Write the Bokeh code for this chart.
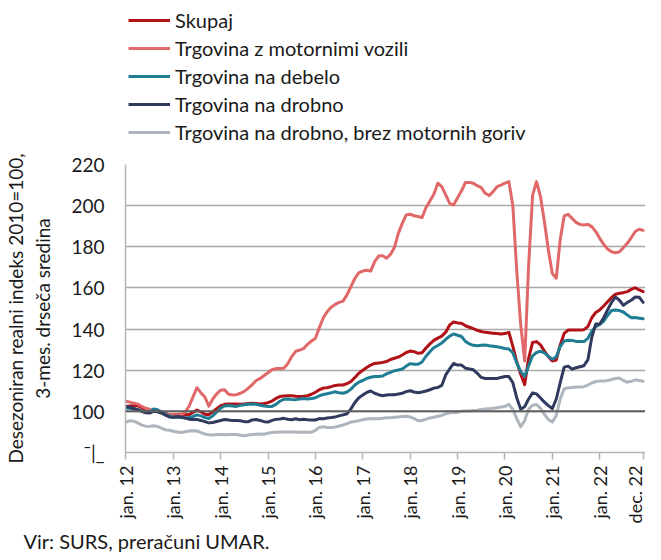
from math import pi
from bokeh.plotting import figure
from bokeh.layouts import column
from bokeh.models import FixedTicker, Legend, LegendItem, Span, Range1d, ColumnDataSource, Title
from bokeh.embed import file_html
from bokeh.resources import INLINE

# ---------------- data (monthly, jan 2012 .. dec 2022) ----------------
month_index = list(range(132))

skupaj = [
    102.4, 102.6, 102.7, 102.8, 101.8, 101.0, 100.3, 100.2, 100.0, 99.6, 99.0, 98.4,
    98.4, 98.5, 98.6, 98.5, 98.4, 99.5, 100.6, 99.8, 98.6, 98.4, 99.8, 101.3,
    102.8, 103.4, 103.6, 103.6, 103.6, 103.4, 103.6, 103.8, 104.0, 103.8, 103.6, 103.8,
    104.2, 105.0, 106.3, 107.2, 107.5, 107.6, 107.6, 107.3, 107.2, 107.3, 107.6, 108.3,
    109.3, 110.5, 111.3, 111.5, 112.0, 112.6, 112.8, 112.8, 113.5, 114.5, 116.5, 118.5,
    120.0, 121.3, 122.5, 123.3, 123.5, 123.8, 124.2, 125.2, 125.8, 126.4, 127.4, 128.6,
    129.3, 129.0, 128.2, 128.5, 130.8, 132.8, 134.5, 135.6, 136.6, 138.5, 142.0, 143.4,
    143.0, 142.8, 141.6, 140.9, 140.2, 139.4, 138.8, 138.4, 138.2, 138.0, 137.8, 137.6,
    137.8, 138.4, 131.6, 124.1, 118.0, 113.0, 125.8, 133.5, 133.9, 132.3, 129.3, 126.6,
    124.5, 125.0, 132.3, 137.9, 139.5, 139.5, 139.5, 139.5, 139.7, 141.2, 145.5, 148.1,
    149.3, 151.2, 153.3, 155.4, 156.9, 157.4, 157.7, 158.2, 159.3, 160.1, 159.0, 158.2,
]

motorna_vozila = [
    104.9, 104.5, 104.0, 103.5, 102.5, 101.5, 101.0, 100.3, 100.0, 99.3, 98.8, 98.4,
    98.4, 98.4, 98.4, 99.5, 102.5, 107.0, 111.5, 109.0, 107.0, 102.5, 106.0, 108.5,
    110.3, 110.5, 108.3, 108.0, 108.1, 108.8, 109.7, 111.3, 113.0, 115.0, 116.0, 117.4,
    118.8, 120.2, 120.8, 120.8, 121.0, 123.2, 126.6, 129.2, 129.8, 130.5, 132.6, 134.2,
    135.5, 140.7, 145.5, 148.5, 150.6, 152.0, 153.0, 153.6, 156.6, 160.6, 164.7, 167.4,
    168.2, 168.6, 168.2, 172.8, 175.5, 175.7, 174.4, 176.3, 179.6, 186.5, 191.4, 195.5,
    195.8, 195.1, 194.7, 194.2, 199.0, 202.3, 205.5, 210.9, 209.2, 205.2, 201.1, 200.3,
    203.8, 207.2, 211.3, 211.3, 210.9, 209.7, 208.8, 206.0, 204.9, 206.8, 209.2, 210.0,
    210.9, 211.7, 200.0, 168.0, 142.0, 124.5, 171.0, 205.0, 211.7, 204.4, 192.2, 178.4,
    167.0, 164.7, 183.6, 195.0, 195.8, 193.8, 191.9, 190.9, 190.6, 190.9, 189.8, 187.4,
    184.1, 181.2, 178.9, 177.6, 177.1, 177.6, 179.6, 181.7, 184.4, 187.4, 188.5, 188.0,
]

na_debelo = [
    101.6, 101.5, 101.2, 100.8, 100.2, 99.8, 99.6, 101.2, 100.8, 99.8, 98.6, 97.6,
    97.1, 97.1, 97.0, 96.8, 97.0, 97.5, 98.3, 97.8, 97.0, 96.5, 97.8, 99.7,
    101.6, 102.6, 102.8, 102.6, 102.4, 102.9, 103.2, 103.5, 103.6, 103.4, 103.0, 102.6,
    102.4, 102.4, 103.4, 104.9, 105.9, 106.0, 105.8, 105.7, 106.0, 106.3, 106.0, 106.2,
    106.6, 107.6, 108.2, 108.6, 109.0, 109.5, 109.0, 108.8, 109.4, 110.8, 112.8, 114.2,
    115.0, 116.0, 116.6, 116.9, 116.9, 117.2, 118.2, 119.0, 119.7, 120.1, 120.6, 122.0,
    123.2, 122.9, 122.9, 124.0, 126.8, 129.0, 131.0, 132.0, 133.2, 135.0, 136.6, 137.6,
    137.0, 136.4, 134.0, 132.8, 132.1, 131.9, 132.1, 132.3, 131.9, 131.7, 131.4, 131.0,
    130.6, 130.3, 128.5, 123.5, 119.3, 117.0, 122.2, 127.0, 128.6, 129.2, 128.4, 126.8,
    125.3, 126.5, 131.5, 134.2, 134.6, 134.5, 134.0, 133.9, 133.9, 135.5, 139.0, 141.2,
    142.3, 143.8, 146.6, 149.0, 149.3, 149.0, 148.3, 146.8, 145.5, 145.6, 145.3, 145.0,
]

na_drobno = [
    102.4, 102.0, 101.4, 100.8, 100.0, 99.3, 99.2, 100.0, 99.8, 99.2, 98.2, 97.3,
    97.1, 97.5, 97.3, 96.8, 96.2, 96.0, 96.0, 95.6, 95.0, 94.4, 94.6, 95.1,
    95.6, 96.0, 95.8, 95.5, 95.5, 95.4, 95.0, 95.0, 95.8, 96.0, 95.6, 95.0,
    94.8, 95.6, 96.1, 96.3, 96.6, 96.2, 95.9, 96.4, 95.9, 96.2, 95.9, 95.8,
    95.8, 96.5, 96.4, 96.8, 97.0, 97.3, 97.8, 98.3, 98.8, 101.2, 104.3, 106.6,
    107.9, 109.2, 109.9, 108.8, 108.1, 107.6, 107.9, 108.1, 108.1, 108.4, 108.8, 109.6,
    110.0, 109.4, 109.0, 109.4, 109.9, 110.5, 111.3, 111.6, 112.6, 117.7, 120.6, 123.3,
    122.5, 122.5, 121.0, 120.6, 120.2, 118.5, 116.5, 116.0, 116.0, 116.0, 116.0, 116.5,
    116.9, 116.9, 114.0, 106.5, 101.0, 102.3, 106.0, 109.0, 108.5, 106.5, 104.5, 102.8,
    101.3, 106.0, 114.0, 121.5, 122.0, 120.5, 121.2, 121.7, 122.2, 125.0, 136.0, 142.5,
    142.3, 145.5, 149.3, 153.0, 155.5, 154.0, 151.5, 153.0, 154.0, 155.6, 155.5, 153.0,
]

brez_goriv = [
    94.8, 95.5, 95.2, 94.4, 93.3, 92.8, 92.7, 93.0, 92.7, 91.8, 91.0, 90.8,
    90.3, 90.0, 89.7, 90.1, 90.4, 90.6, 90.5, 89.7, 89.0, 88.6, 88.5, 88.7,
    88.8, 88.6, 88.7, 88.8, 88.7, 88.4, 88.1, 88.5, 88.7, 88.9, 89.0, 88.9,
    89.4, 89.7, 89.9, 90.0, 90.0, 90.0, 90.0, 90.0, 89.9, 90.0, 89.9, 89.9,
    90.8, 92.2, 92.5, 92.2, 92.1, 92.4, 92.9, 93.4, 94.0, 94.8, 95.1, 95.5,
    95.9, 96.3, 96.5, 96.4, 96.4, 96.6, 96.9, 96.9, 97.1, 97.3, 97.5, 97.6,
    97.3, 96.5, 95.4, 95.5, 96.2, 96.8, 97.1, 97.6, 98.0, 98.8, 99.3, 99.6,
    99.5, 100.0, 100.2, 100.2, 100.4, 100.6, 100.9, 101.1, 101.3, 101.5, 101.8, 102.1,
    102.4, 103.4, 101.0, 96.5, 92.5, 95.5, 101.0, 103.0, 103.3, 101.5, 98.5, 96.0,
    94.8, 98.0, 106.0, 111.0, 111.5, 111.6, 111.8, 111.9, 112.0, 112.8, 113.8, 114.5,
    114.7, 114.7, 115.0, 115.5, 116.0, 116.2, 115.0, 114.2, 114.6, 115.3, 115.0, 114.6,
]

series_names = [
    "Skupaj",
    "Trgovina z motornimi vozili",
    "Trgovina na debelo",
    "Trgovina na drobno",
    "Trgovina na drobno, brez motornih goriv",
]
series_values = [skupaj, motorna_vozila, na_debelo, na_drobno, brez_goriv]
series_colors = ["#B01218", "#E06868", "#1F7E93", "#2F3A5E", "#AEB5BD"]

x_tick_months = [0, 12, 24, 36, 48, 60, 72, 84, 96, 108, 120, 131]
x_tick_labels = ["jan. 12", "jan. 13", "jan. 14", "jan. 15", "jan. 16", "jan. 17",
                 "jan. 18", "jan. 19", "jan. 20", "jan. 21", "jan. 22", "dec. 22"]
y_ticks = [80, 100, 120, 140, 160, 180, 200, 220]
base_level = 100

y_axis_title = "Desezoniran realni indeks 2010=100,\n3-mes. drseča sredina"
source_note = "Vir: SURS, preračuni UMAR."

FONT = "Lato"
TEXT_COLOR = "#1a1a1a"
W = 645

# ---------------- legend strip (top) ----------------
leg_fig = figure(width=W, height=145, output_backend="svg", toolbar_location=None,
                 x_range=Range1d(0, 1), y_range=Range1d(0, 1),
                 x_axis_location=None, y_axis_location=None,
                 min_border=0, min_border_left=0, min_border_right=0,
                 min_border_top=0, min_border_bottom=0)
leg_fig.outline_line_color = None
leg_fig.grid.visible = False
nan = float("nan")
leg_renderers = [leg_fig.line(x=[nan], y=[nan], line_color=c, line_width=3) for c in series_colors]
legend = Legend(
    items=[LegendItem(label=n, renderers=[r]) for n, r in zip(series_names, leg_renderers)],
    location=(3, 1), orientation="vertical",
    border_line_color=None, background_fill_alpha=0,
    padding=0, margin=0, spacing=4,
    glyph_width=42, glyph_height=22, label_height=22, label_standoff=5,
    label_text_font=FONT, label_text_font_size="20px", label_text_color=TEXT_COLOR,
)
leg_fig.add_layout(legend)

# ---------------- main chart ----------------
p = figure(width=W, height=407, output_backend="svg", toolbar_location=None,
           x_range=Range1d(-0.1, 131.6), y_range=Range1d(80, 220),
           min_border_left=119, min_border_right=0, min_border_top=19,
           min_border_bottom=99)
p.outline_line_color = None

src = ColumnDataSource(dict(m=month_index, **{f"s{i}": v for i, v in enumerate(series_values)}))
for i, col in enumerate(series_colors):
    p.line("m", f"s{i}", source=src, line_color=col, line_width=3,
           line_join="round", line_cap="round")

p.add_layout(Span(location=base_level, dimension="width", line_color="#5f5f5f", line_width=2))

p.xaxis.ticker = FixedTicker(ticks=x_tick_months)
p.xaxis.major_label_overrides = {m: l for m, l in zip(x_tick_months, x_tick_labels)}
p.xaxis.major_label_orientation = pi / 2
p.xaxis.major_label_text_font = FONT
p.xaxis.major_label_text_font_size = "18px"
p.xaxis.major_label_text_color = TEXT_COLOR
p.xaxis.major_label_standoff = 6
p.xaxis.major_tick_out = 7
p.xaxis.major_tick_in = 0
p.xaxis.minor_tick_out = 0
p.xaxis.minor_tick_in = 0
p.xaxis.axis_line_color = "#b5b5b5"
p.xaxis.axis_line_width = 1.5
p.xaxis.major_tick_line_color = "#b5b5b5"
p.xaxis.major_tick_line_width = 1.5

p.yaxis.ticker = FixedTicker(ticks=y_ticks)
p.yaxis.major_label_overrides = {80: "¯|_"}
p.yaxis.major_label_text_font = FONT
p.yaxis.major_label_text_font_size = "19px"
p.yaxis.major_label_text_color = TEXT_COLOR
p.yaxis.major_label_standoff = 21
p.yaxis.major_tick_out = 0
p.yaxis.major_tick_in = 0
p.yaxis.minor_tick_out = 0
p.yaxis.minor_tick_in = 0
p.yaxis.axis_line_color = "#b5b5b5"
p.yaxis.axis_line_width = 1.5
p.yaxis.axis_label = y_axis_title
p.yaxis.axis_label_text_font = FONT
p.yaxis.axis_label_text_font_size = "19px"
p.yaxis.axis_label_text_font_style = "normal"
p.yaxis.axis_label_text_color = TEXT_COLOR
p.yaxis.axis_label_standoff = 14

p.xgrid.grid_line_color = None
p.ygrid.grid_line_color = "#a8a8a8"
p.ygrid.grid_line_width = 1.5

p.add_layout(Title(text=source_note, align="left", offset=-102, standoff=0,
                   text_font=FONT, text_font_size="20px", text_font_style="normal",
                   text_color=TEXT_COLOR), "below")

layout = column(leg_fig, p, spacing=0)

open("out.html", "w").write(file_html(layout, INLINE))
